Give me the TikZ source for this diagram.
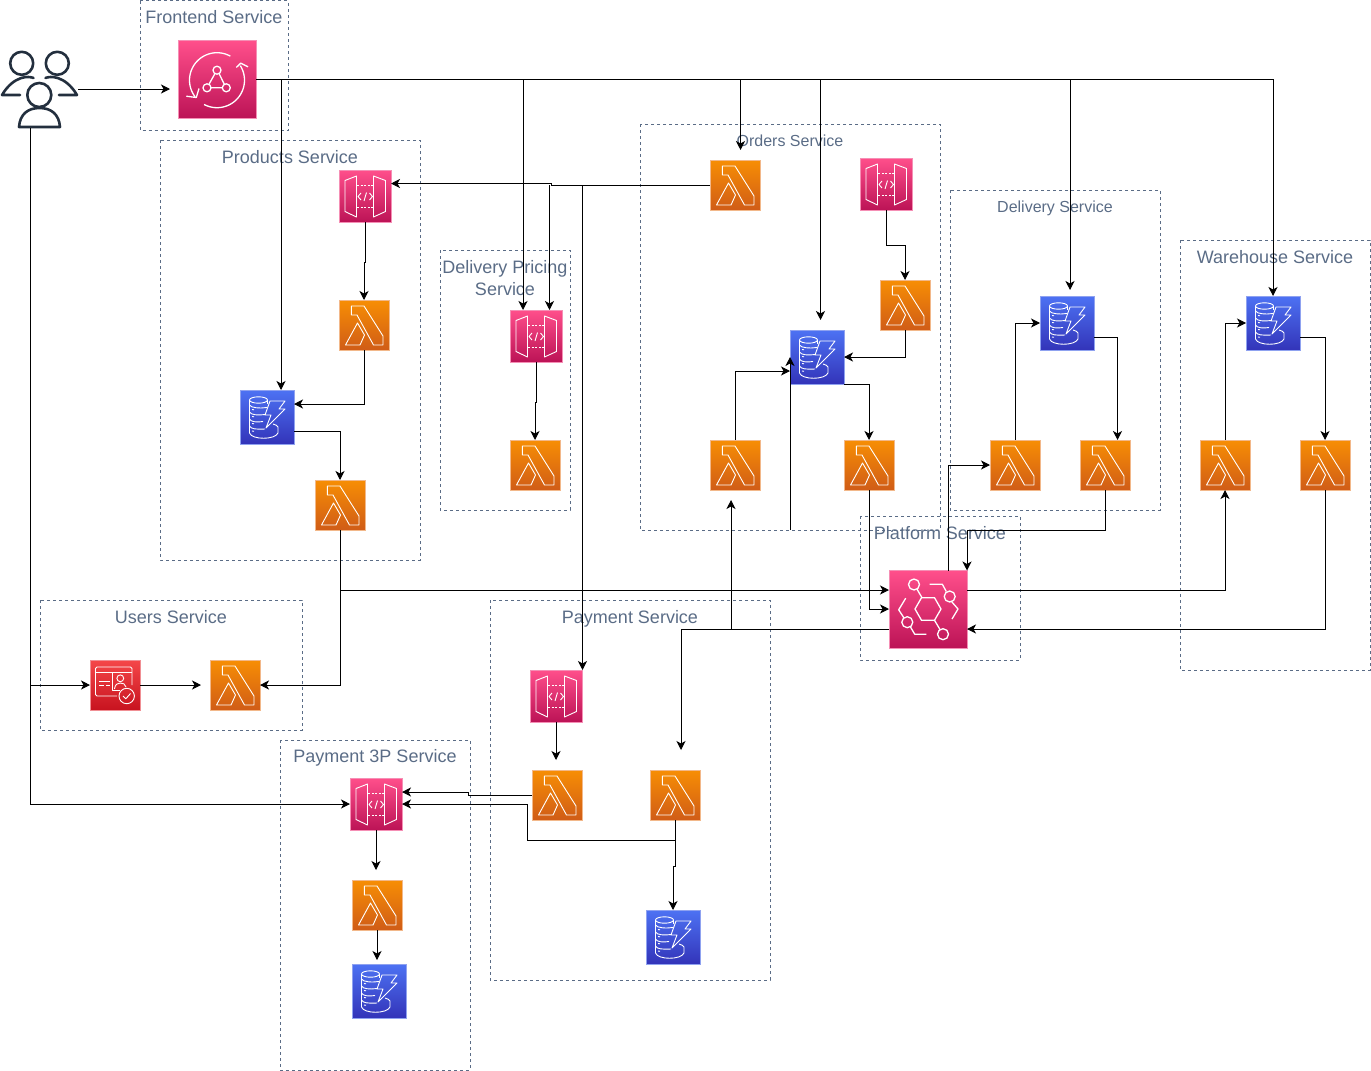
\documentclass[tikz,border=0pt]{standalone}
\usepackage{fontspec}
\setmainfont{Liberation Sans}
\usetikzlibrary{arrows.meta,calc}
\definecolor{grp}{HTML}{5A6C86}
\definecolor{usr}{HTML}{232F3E}
\tikzset{
  x=1pt,y=-1pt,
  group/.style={draw=grp,dashed,dash pattern=on 3pt off 3pt,line width=0.7pt,fill=none},
  grouplabelbase/.style={text=grp,font=\fontsize{18}{22}\selectfont,inner sep=0pt,align=center},
  grouplabel/.style={grouplabelbase,text height=13pt,text depth=0pt},
  grouplabelsmall/.style={text=grp,font=\fontsize{16}{20}\selectfont,inner sep=0pt,align=center,text height=11.5pt,text depth=0pt},
  iconbase/.style={anchor=north west,inner sep=0pt,outer sep=0pt,line width=0.8pt},
  lambdabox/.style={iconbase,minimum width=50pt,minimum height=50pt,top color=orange1,bottom color=orange2,draw=orange3},
  dynbox/.style={iconbase,minimum width=54pt,minimum height=54pt,top color=blue1,bottom color=blue2,draw=blue3},
  apibox/.style={iconbase,minimum width=52pt,minimum height=52pt,top color=pink1,bottom color=pink2,draw=pink3},
  bigbox/.style={iconbase,minimum width=78pt,minimum height=78pt,top color=pink1,bottom color=pink2,draw=pink3},
  redbox/.style={iconbase,minimum width=50pt,minimum height=50pt,top color=red1,bottom color=red2,draw=red3},
  glyph/.style={draw=white,line width=0.9pt,line join=round,fill=none},
  bigglyph/.style={glyph,line width=1.3pt},
  person/.style={draw=usr,line width=2.6pt,line join=round,line cap=round,fill=none},
  wire/.style={draw=black,line width=1pt,line join=miter},
  conn/.style={wire,-{Stealth[length=9pt,width=9pt,inset=2.5pt]}},
}
\definecolor{orange1}{HTML}{F78E04}\definecolor{orange2}{HTML}{D05C17}\definecolor{orange3}{HTML}{F2B88A}
\definecolor{blue1}{HTML}{4D72F3}\definecolor{blue2}{HTML}{3334B9}\definecolor{blue3}{HTML}{8FA2F0}
\definecolor{pink1}{HTML}{FF4F8B}\definecolor{pink2}{HTML}{BC1356}\definecolor{pink3}{HTML}{F58FB5}
\definecolor{red1}{HTML}{F54749}\definecolor{red2}{HTML}{C7131F}\definecolor{red3}{HTML}{F08F94}
\newcommand\lambdaicon[3]{%
  \node[lambdabox] (#1) at (#2,#3) {};
  \begin{scope}[shift={(#2,#3)}]
    \draw[glyph] (12.3,6) -- (25,6) -- (44,36) -- (44,45) -- (34.5,45) -- (18,15) -- (12.3,15) -- cycle;
    \draw[glyph] (18.5,23) -- (6.5,45) -- (21,45) -- (25.5,35) -- cycle;
  \end{scope}}
\newcommand\dynicon[3]{%
  \node[dynbox] (#1) at (#2,#3) {};
  \begin{scope}[shift={(#2,#3)}]
    \draw[glyph] (18.5,10) ellipse (9pt and 3.2pt);
    \draw[glyph] (9.5,10) -- (9.5,43);
    \draw[glyph] (27.5,10) -- (27.5,14);
    \draw[glyph] (9.5,15) .. controls (11,18) and (20,18.5) .. (27,17.5);
    \draw[glyph] (9.5,22) .. controls (11,25) and (18,25.5) .. (25,24.5);
    \draw[glyph] (9.5,29) .. controls (11,32) and (17,32.5) .. (23,31.5);
    \draw[glyph] (9.5,36) .. controls (11,39) and (16,39.5) .. (25,39);
    \draw[glyph] (12,19.5) -- (14,19.8) (12,26.5) -- (14,26.8) (12,33.5) -- (14,33.8) (12,41) -- (14,41.3);
    \draw[glyph] (9.5,43) .. controls (12,50) and (35,50) .. (38,43) -- (38,37) .. controls (37.5,35.5) and (36,35) .. (33,34);
    \draw[glyph] (30,11) -- (45,11) -- (39,19) -- (45,19) -- (26,38) -- (31,25) -- (25,25) -- cycle;
  \end{scope}}
\newcommand\apiicon[3]{%
  \node[apibox] (#1) at (#2,#3) {};
  \begin{scope}[shift={(#2,#3)}]
    \draw[glyph] (17.5,6) -- (6,10.5) -- (6,41.5) -- (17.5,47) -- cycle;
    \draw[glyph] (34.5,6) -- (46.5,10.5) -- (46.5,41.5) -- (34.5,47) -- cycle;
    \draw[glyph,dash pattern=on 2pt off 1.6pt] (18,15.5) -- (34,15.5) (18,37) -- (34,37);
    \draw[glyph] (22,23) -- (19,26.5) -- (22,30) (25,31) -- (27.5,22.5) (30.5,23) -- (33.5,26.5) -- (30.5,30);
  \end{scope}}
\begin{document}
\begin{tikzpicture}
\useasboundingbox (0,0) rectangle (1371,1071);
% groups
\draw[group] (140,0.5) rectangle (288,130);
\draw[group] (160,140) rectangle (420,560);
\draw[group] (440,250) rectangle (570,510);
\draw[group] (640,124) rectangle (940,530);
\draw[group] (950,190) rectangle (1160,510);
\draw[group] (1180,240) rectangle (1370,670);
\draw[group] (860,516) rectangle (1020,660);
\draw[group] (40,600) rectangle (302,730);
\draw[group] (490,600) rectangle (770,980);
\draw[group] (280,740) rectangle (470,1070);
% group labels
\node[grouplabel] (lfront) at (214,17) {Frontend Service};
\node[grouplabel] (lprod) at (290,157) {Products Service};
\node[grouplabelbase] (ldp) at (505,278) {Delivery Pricing\\[-0.5pt]Service};
\node[grouplabelsmall] (lord) at (790,141) {Orders Service};
\node[grouplabelsmall] (ldel) at (1055,207) {Delivery Service};
\node[grouplabel] (lwh) at (1275,257) {Warehouse Service};
\node[grouplabel] (lplat) at (940,533) {Platform Service};
\node[grouplabel] (lusers) at (171,617) {Users Service};
\node[grouplabel] (lpay) at (630,617) {Payment Service};
\node[grouplabel] (lpay3) at (375,756) {Payment 3P Service};
% users
\node[anchor=north west,inner sep=0pt,outer sep=0pt,minimum width=78pt,minimum height=78pt] (users) at (0,50) {};
\begin{scope}
  \draw[person] (21.7,63.3) circle (11.5pt);
  \draw[person] (57.3,63.3) circle (11.5pt);
  \draw[person] (39.3,95) circle (12pt);
  \draw[person] (33.5,78) .. controls (29,76) and (14,75) .. (2,95) -- (20,95);
  \draw[person] (45.5,78) .. controls (50,76) and (65,75) .. (77,95) -- (59,95);
  \draw[person] (19,127) .. controls (20,114) and (28,108) .. (39.5,108) .. controls (51,108) and (59,114) .. (60,127) -- cycle;
\end{scope}
% appsync
\node[bigbox] (appsync) at (178,40.5) {};
\begin{scope}[shift={(178,40.5)}]
  \draw[bigglyph] plot[domain=-61:-217,samples=40] ({39+27.5*cos(\x)},{39.7+27.5*sin(\x)});
  \draw[bigglyph] plot[domain=118:-32,samples=40] ({39+27.5*cos(\x)},{39.7+27.5*sin(\x)});
  \draw[bigglyph] (8.3,55.7) -- (18.3,57) -- (21,48);
  \draw[bigglyph] (58.3,27) -- (62.7,22.7) -- (70,26.3);
  \draw[bigglyph] (39,29.7) circle (4pt) (29,47.3) circle (4pt) (48.3,47.3) circle (4pt);
  \draw[bigglyph] (37,33) -- (31,43.7) (41,33) -- (46.3,43.7) (33,47.3) -- (44.3,47.3);
\end{scope}
% events
\node[bigbox] (events) at (889,570.5) {};
\begin{scope}[shift={(889,570.5)}]
  \draw[bigglyph] (26,38.5) -- (32.5,27.2) -- (45.5,27.2) -- (52,38.5) -- (45.5,49.8) -- (32.5,49.8) -- cycle;
  \draw[bigglyph] (25,14) circle (5.5pt) (60.7,26) circle (5.5pt) (18.3,51.7) circle (5.5pt) (54,63.7) circle (5.5pt);
  \draw[bigglyph] (28,18.7) -- (33,27.2) (45.5,49.8) -- (51,59);
  \draw[bigglyph] (40.7,13.7) -- (53.3,13.7) -- (57.3,21);
  \draw[bigglyph] (62.5,31) -- (69,38.5) -- (63,48.5);
  \draw[bigglyph] (16.7,27.7) -- (9.7,39.3) -- (15,47.5);
  \draw[bigglyph] (21.5,56.5) -- (25.7,63.7) -- (37.3,63.7);
\end{scope}
% cognito
\node[redbox] (cognito) at (90,660) {};
\begin{scope}[shift={(90,660)}]
  \draw[glyph] (27,36) -- (7,36) [rounded corners=1.5pt] -- (5.5,36) -- (5.5,7) -- (42,7) -- (42,25);
  \draw[glyph] (5.5,12.5) -- (42,12.5);
  \draw[glyph] (22,12.5) -- (22,30) -- (30,30);
  \draw[glyph] (30.3,18.3) circle (3.4pt);
  \draw[glyph] (24.5,29) .. controls (25,24) and (28,23) .. (30.3,23) .. controls (33,23) and (35.5,24) .. (36,27);
  \draw[glyph] (9,21) -- (19.5,21) (9,25) -- (14,25) (16,25) -- (19.5,25);
  \draw[glyph] (36.7,36) circle (7.7pt);
  \draw[glyph] (33,36) -- (35.8,38.8) -- (40.5,33.5);
\end{scope}
% lambdas
\lambdaicon{plA}{339}{300}
\lambdaicon{plB}{315}{480}
\lambdaicon{dpl}{510}{440}
\lambdaicon{olTop}{710}{160}
\lambdaicon{olRight}{880}{280}
\lambdaicon{olLeft}{710}{440}
\lambdaicon{olMid}{844}{440}
\lambdaicon{dlA}{990}{440}
\lambdaicon{dlB}{1080}{440}
\lambdaicon{wlA}{1200}{440}
\lambdaicon{wlB}{1300}{440}
\lambdaicon{ul}{210}{660}
\lambdaicon{paylA}{532}{770}
\lambdaicon{paylB}{650}{770}
\lambdaicon{p3l}{352}{880}
% dynamo
\dynicon{pdb}{240}{390}
\dynicon{odb}{790}{330}
\dynicon{ddb}{1040}{296}
\dynicon{wdb}{1246}{296}
\dynicon{paydb}{646}{910}
\dynicon{p3db}{352}{964}
% api gateways
\apiicon{papi}{339}{170}
\apiicon{dpapi}{510}{310}
\apiicon{oapi}{860}{158}
\apiicon{payapi}{530}{670}
\apiicon{p3api}{350}{778}
% junctions
\coordinate (jA) at (281,80);
\coordinate (jB) at (523,80);
\coordinate (jC) at (740.5,80);
\coordinate (jD) at (820.5,80);
\coordinate (jE) at (1070,80);
\coordinate (jF) at (582.5,186);
\coordinate (jG) at (340,590);
\coordinate (jH) at (30.5,685);
\coordinate (jI) at (731,629);
\coordinate (jJ) at (675,840);
\coordinate (jL) at (790,530);
% connectors
\draw[conn,shorten >=8pt] (users.east) -- (users.east -| appsync.west);
\draw[conn] (appsync.east) -- (appsync.east -| wdb.north) -- (wdb.north);
\draw[conn] (jA) -- (pdb.north -| jA);
\draw[conn] (jB) -- (dpapi.north -| jB);
\draw[conn,shorten >=10pt] (jC) -- (olTop.north -| jC);
\draw[conn,shorten >=10pt] (jD) -- (odb.north -| jD);
\draw[conn,shorten >=6pt] (jE) -- (ddb.north -| jE);
\draw[conn] (olTop.west) -- (551,185) -- (551,183.5) -- (papi.east |- 0,183.5);
\draw[conn] (549.5,185) -- (dpapi.north -| 549.5,0);
\draw[conn] (jF) -- (payapi.north -| jF);
\draw[conn] (papi.south) -- (365,262) -- (364,262) -- (plA.north);
\draw[conn] (dpapi.south) -- (536,402) -- (535,402) -- (dpl.north);
\draw[conn] (oapi.south) -- (886,245) -- (905,245) -- (olRight.north);
\draw[conn] (olRight.south) -- (905,357) -- (odb.east);
\draw[conn] (plA.south) -- (364,404) -- (pdb.east |- 0,404);
\draw[conn] ([yshift=-14pt]pdb.east) -- (340,431) -- (plB.north);
\draw[conn] (plB.south) -- (340,685) -- (ul.east);
\draw[conn] (jG) -- (events.west |- jG);
\draw[conn,shorten >=9pt] (cognito.east) -- (ul.west);
\draw[conn] (users.south -| 30.5,0) -- (30.5,804) -- (p3api.west);
\draw[conn] (jH) -- (cognito.west);
\draw[conn] (olLeft.north) -- (735,371) -- (odb.west |- 0,371);
\draw[conn] (odb.south east |- 0,384.5) -- (869,384.5) -- (olMid.north);
\draw[conn] (olMid.south) -- (869,609) -- (events.west |- 0,609);
\draw[conn] (jL) -- (odb.west);
\draw[conn] (events.north -| 948,0) -- (948,465) -- (dlA.west);
\draw[conn] (dlB.south) -- (1105,530.5) -- (967,530.5) -- (events.north east);
\draw[wire] (events.west |- jI) -- (jI);
\draw[conn,shorten >=10pt] (jI) -- (731,490);
\draw[conn,shorten >=20pt] (events.west |- jI) -- (681,629) -- (paylB.north -| 681,0);
\draw[conn] (events.east |- 0,590) -- (1225,590) -- (wlA.south);
\draw[conn] (wlB.south) -- (1325,629) -- (events.east |- 0,629);
\draw[conn] (wlA.north) -- (1225,323) -- (wdb.west);
\draw[conn] ([yshift=-14pt]wdb.east) -- (1325,337) -- (wlB.north);
\draw[conn] (dlA.north) -- (1015,323) -- (ddb.west);
\draw[conn] ([yshift=-14pt]ddb.east) -- (1117.5,337) -- (dlB.north -| 1117.5,0);
\draw[conn,shorten >=10pt] (payapi.south) -- (paylA.north -| payapi.south);
\draw[conn] (paylA.west) -- (468,795) -- (468,792) -- (p3api.east |- 0,792);
\draw[conn] (paylB.south) -- (jJ) -- (527,840) -- (527,804) -- (p3api.east);
\draw[conn] (jJ) -- (675,866) -- (673,866) -- (paydb.north);
\draw[conn,shorten >=10pt] (p3api.south) -- (p3l.north -| p3api.south);
\draw[conn,shorten >=4pt] (p3l.south) -- (p3db.north -| p3l.south);
\end{tikzpicture}
\end{document}
